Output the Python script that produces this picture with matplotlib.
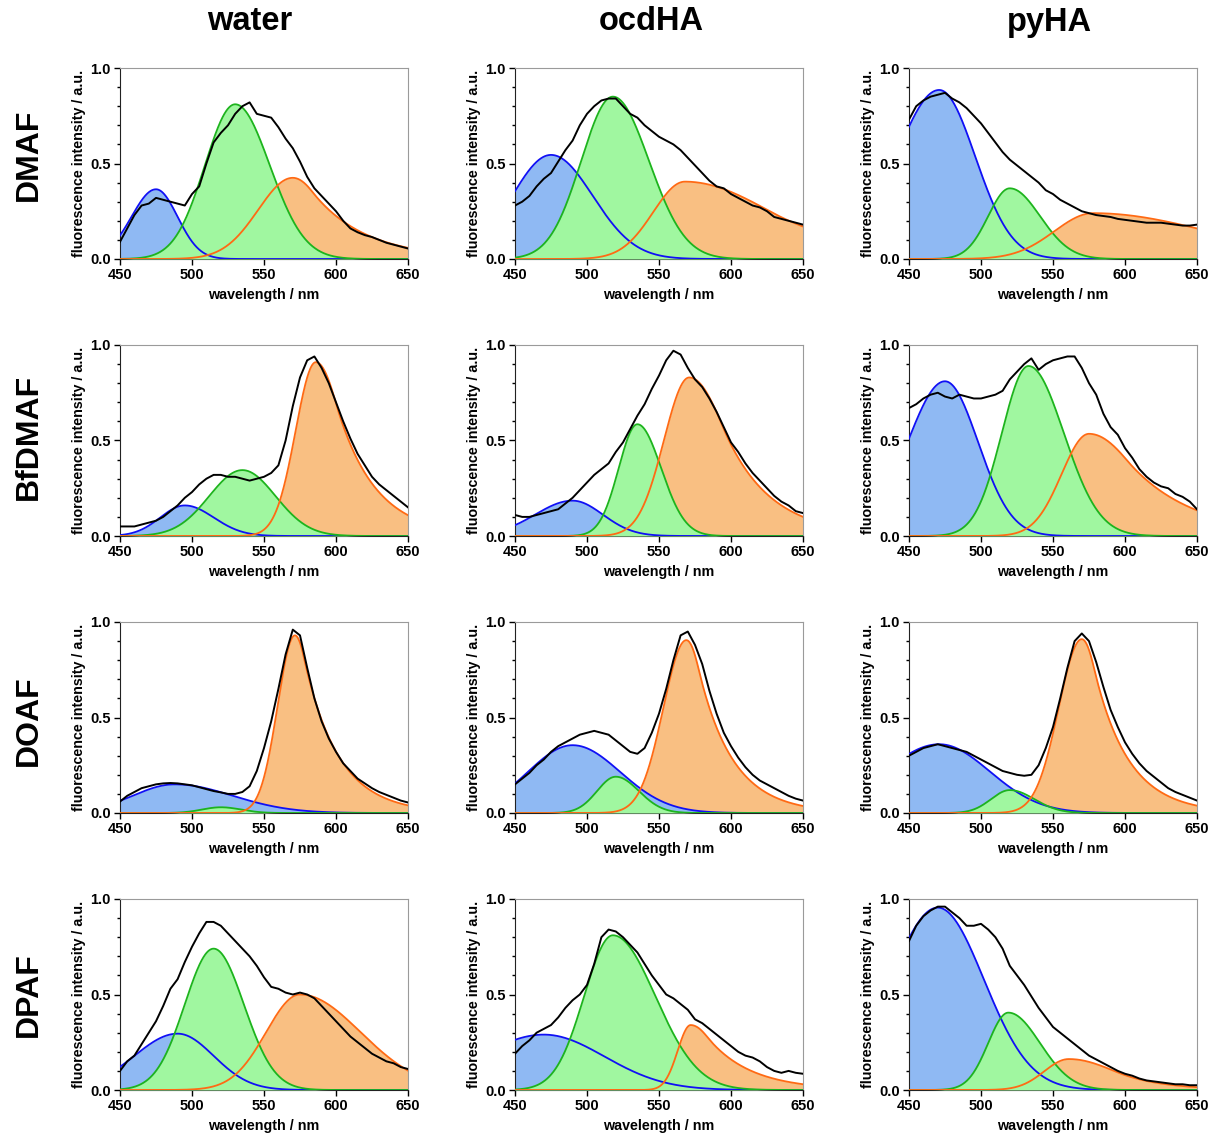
import numpy as np
import matplotlib
matplotlib.use('Agg')
import matplotlib.pyplot as plt
from matplotlib.ticker import MultipleLocator, FormatStrFormatter

plt.rcParams['font.family'] = ['Liberation Sans', 'DejaVu Sans']
plt.rcParams['font.weight'] = 'bold'

dyes = ['DMAF', 'BfDMAF', 'DOAF', 'DPAF']
media = ['water', 'ocdHA', 'pyHA']

# measured spectra, read every 5 nm from 450 to 650 nm
wavelength = np.arange(450, 651, 5)

spec_DMAF_water = [0.09, 0.16, 0.23, 0.28, 0.29, 0.32, 0.31, 0.30, 0.29, 0.28, 0.34, 0.38, 0.50, 0.61,
                   0.66, 0.70, 0.76, 0.80, 0.82, 0.76, 0.75, 0.74, 0.69, 0.63, 0.58, 0.51, 0.43, 0.37,
                   0.33, 0.29, 0.25, 0.20, 0.16, 0.14, 0.125, 0.115, 0.10, 0.085, 0.075, 0.065, 0.055]
spec_DMAF_ocdHA = [0.28, 0.30, 0.33, 0.38, 0.42, 0.45, 0.51, 0.57, 0.62, 0.70, 0.76, 0.80, 0.83, 0.84,
                   0.84, 0.80, 0.76, 0.74, 0.70, 0.67, 0.64, 0.62, 0.60, 0.57, 0.53, 0.49, 0.45, 0.41,
                   0.38, 0.37, 0.34, 0.32, 0.30, 0.28, 0.27, 0.25, 0.22, 0.21, 0.20, 0.19, 0.18]
spec_DMAF_pyHA = [0.73, 0.80, 0.83, 0.85, 0.86, 0.87, 0.84, 0.82, 0.79, 0.75, 0.71, 0.66, 0.61, 0.56,
                  0.52, 0.49, 0.46, 0.43, 0.40, 0.36, 0.34, 0.31, 0.29, 0.27, 0.25, 0.24, 0.23, 0.225,
                  0.22, 0.21, 0.205, 0.20, 0.195, 0.19, 0.19, 0.19, 0.185, 0.18, 0.175, 0.175, 0.18]
spec_BfDMAF_water = [0.05, 0.05, 0.05, 0.06, 0.07, 0.08, 0.10, 0.13, 0.16, 0.20, 0.23, 0.27, 0.30, 0.32,
                     0.32, 0.31, 0.31, 0.30, 0.29, 0.30, 0.31, 0.33, 0.37, 0.50, 0.68, 0.83, 0.92, 0.94,
                     0.88, 0.80, 0.70, 0.60, 0.51, 0.43, 0.37, 0.31, 0.27, 0.24, 0.21, 0.18, 0.15]
spec_BfDMAF_ocdHA = [0.11, 0.10, 0.10, 0.11, 0.12, 0.13, 0.14, 0.17, 0.20, 0.24, 0.28, 0.32, 0.35, 0.38,
                     0.44, 0.49, 0.56, 0.63, 0.69, 0.77, 0.84, 0.92, 0.97, 0.95, 0.88, 0.82, 0.78, 0.72,
                     0.65, 0.57, 0.49, 0.44, 0.38, 0.33, 0.29, 0.25, 0.21, 0.18, 0.16, 0.13, 0.12]
spec_BfDMAF_pyHA = [0.67, 0.69, 0.72, 0.74, 0.75, 0.73, 0.72, 0.74, 0.73, 0.72, 0.72, 0.73, 0.74, 0.76,
                    0.82, 0.86, 0.90, 0.93, 0.87, 0.90, 0.92, 0.93, 0.94, 0.94, 0.88, 0.80, 0.74, 0.64,
                    0.57, 0.53, 0.46, 0.41, 0.35, 0.31, 0.28, 0.26, 0.25, 0.22, 0.205, 0.18, 0.14]
spec_DOAF_water = [0.06, 0.09, 0.11, 0.13, 0.14, 0.15, 0.155, 0.157, 0.155, 0.15, 0.145, 0.135, 0.125, 0.115,
                   0.108, 0.10, 0.10, 0.11, 0.14, 0.22, 0.34, 0.48, 0.65, 0.83, 0.96, 0.93, 0.76, 0.60,
                   0.48, 0.39, 0.32, 0.26, 0.22, 0.18, 0.155, 0.13, 0.11, 0.095, 0.08, 0.065, 0.055]
spec_DOAF_ocdHA = [0.15, 0.18, 0.21, 0.25, 0.28, 0.32, 0.35, 0.37, 0.39, 0.41, 0.42, 0.43, 0.42, 0.41,
                   0.38, 0.35, 0.32, 0.31, 0.34, 0.42, 0.52, 0.65, 0.80, 0.93, 0.95, 0.88, 0.78, 0.64,
                   0.52, 0.42, 0.35, 0.29, 0.24, 0.20, 0.17, 0.15, 0.13, 0.11, 0.09, 0.075, 0.065]
spec_DOAF_pyHA = [0.30, 0.32, 0.34, 0.35, 0.36, 0.35, 0.34, 0.33, 0.32, 0.30, 0.28, 0.26, 0.24, 0.22,
                  0.21, 0.20, 0.195, 0.20, 0.25, 0.34, 0.45, 0.60, 0.76, 0.90, 0.94, 0.90, 0.79, 0.66,
                  0.54, 0.45, 0.37, 0.31, 0.26, 0.22, 0.19, 0.16, 0.13, 0.11, 0.095, 0.08, 0.065]
spec_DPAF_water = [0.10, 0.15, 0.18, 0.24, 0.30, 0.36, 0.44, 0.53, 0.58, 0.67, 0.75, 0.82, 0.88, 0.88,
                   0.86, 0.82, 0.78, 0.74, 0.70, 0.65, 0.59, 0.54, 0.53, 0.51, 0.50, 0.51, 0.50, 0.48,
                   0.44, 0.40, 0.36, 0.32, 0.28, 0.25, 0.22, 0.19, 0.17, 0.15, 0.14, 0.12, 0.11]
spec_DPAF_ocdHA = [0.19, 0.23, 0.26, 0.30, 0.32, 0.34, 0.38, 0.43, 0.47, 0.50, 0.55, 0.66, 0.80, 0.84,
                   0.83, 0.80, 0.76, 0.72, 0.66, 0.60, 0.55, 0.50, 0.48, 0.45, 0.42, 0.37, 0.35, 0.32,
                   0.29, 0.26, 0.23, 0.20, 0.18, 0.17, 0.15, 0.12, 0.10, 0.09, 0.10, 0.09, 0.085]
spec_DPAF_pyHA = [0.78, 0.86, 0.91, 0.94, 0.96, 0.96, 0.93, 0.90, 0.86, 0.86, 0.87, 0.84, 0.80, 0.74,
                  0.65, 0.60, 0.55, 0.49, 0.43, 0.38, 0.33, 0.30, 0.27, 0.24, 0.21, 0.18, 0.16, 0.14,
                  0.12, 0.10, 0.085, 0.075, 0.06, 0.05, 0.045, 0.04, 0.035, 0.03, 0.03, 0.025, 0.025]

# fitted bands (blue, green, orange):
# (peak / nm, height, left sigma, right sigma, red exponential tail length; 0 = none)
bands_DMAF_water = [(475, 0.365, 17, 15, 0), (530, 0.81, 21, 24, 0), (570, 0.425, 24, 22, 37)]
bands_DMAF_ocdHA = [(475, 0.545, 27, 29, 0), (518, 0.85, 22, 25, 0), (568, 0.405, 22, 60, 60)]
bands_DMAF_pyHA = [(471, 0.885, 30, 25, 0), (520, 0.37, 15, 21, 0), (578, 0.24, 27, 80, 0)]
bands_BfDMAF_water = [(495, 0.16, 17, 20, 0), (535, 0.345, 23, 23, 0), (586, 0.91, 14, 19, 27)]
bands_BfDMAF_ocdHA = [(490, 0.185, 26, 21, 0), (535, 0.585, 13, 16.5, 0), (571, 0.83, 17.5, 27, 32)]
bands_BfDMAF_pyHA = [(475, 0.81, 26, 23, 0), (533, 0.89, 18.5, 24.5, 0), (575, 0.535, 19, 34, 45)]
bands_DOAF_water = [(488, 0.15, 29, 40, 0), (520, 0.03, 13, 14, 0), (571.5, 0.93, 12, 12, 24)]
bands_DOAF_ocdHA = [(490, 0.355, 31, 33, 0), (520, 0.19, 13, 16, 0), (569, 0.905, 16, 14, 24)]
bands_DOAF_pyHA = [(471, 0.36, 38, 35, 0), (520, 0.12, 13, 17, 0), (570, 0.91, 16, 14, 24)]
bands_DPAF_water = [(490, 0.295, 30, 25, 0), (515, 0.74, 20, 21, 0), (575, 0.50, 23.5, 42, 0)]
bands_DPAF_ocdHA = [(470, 0.29, 45, 42, 0), (518, 0.81, 20, 29.5, 0), (572, 0.34, 9, 18, 30)]
bands_DPAF_pyHA = [(470, 0.955, 33, 32, 0), (519, 0.405, 14, 22, 0), (561, 0.162, 17, 32, 30)]

spectra = [[spec_DMAF_water, spec_DMAF_ocdHA, spec_DMAF_pyHA],
           [spec_BfDMAF_water, spec_BfDMAF_ocdHA, spec_BfDMAF_pyHA],
           [spec_DOAF_water, spec_DOAF_ocdHA, spec_DOAF_pyHA],
           [spec_DPAF_water, spec_DPAF_ocdHA, spec_DPAF_pyHA]]
bands = [[bands_DMAF_water, bands_DMAF_ocdHA, bands_DMAF_pyHA],
         [bands_BfDMAF_water, bands_BfDMAF_ocdHA, bands_BfDMAF_pyHA],
         [bands_DOAF_water, bands_DOAF_ocdHA, bands_DOAF_pyHA],
         [bands_DPAF_water, bands_DPAF_ocdHA, bands_DPAF_pyHA]]

line_colors = ['#1010f5', '#1db41d', '#ff6a14']
fill_colors = ['#8fb9f3', '#a0f7a0', '#f9bf82']
fill_order = [2, 0, 1]   # orange at the back, green in front


def band(x, peak, height, sig_l, sig_r, tail):
    # split gaussian, optionally with an exponential tail on the red side
    d = x - peak
    y = np.where(d < 0, np.exp(-d**2 / (2 * sig_l**2)), np.exp(-d**2 / (2 * sig_r**2)))
    if tail > 0:
        k = sig_r / tail
        y = np.where(d > k * sig_r, np.exp(k**2 / 2 - d / tail), y)
    return height * y


W, H = 1210, 1137
fig = plt.figure(figsize=(W / 100, H / 100), dpi=100)

lefts = [120, 515, 909]
tops = [68, 345, 622, 899]
aw, ah = 288, 191
xfine = np.linspace(450, 650, 801)

for r in range(4):
    for c in range(3):
        ax = fig.add_axes([lefts[c] / W, 1 - (tops[r] + ah) / H, aw / W, ah / H])
        comps = [band(xfine, *b) for b in bands[r][c]]
        for z, i in enumerate(fill_order):
            ax.fill_between(xfine, 0, comps[i], color=fill_colors[i], lw=0, zorder=1 + z)
        for i, y in enumerate(comps):
            ax.plot(xfine, y, color=line_colors[i], lw=1.3, zorder=5)
        ax.plot(wavelength, spectra[r][c], color='black', lw=1.4, zorder=6)

        ax.set_xlim(450, 650)
        ax.set_ylim(0, 1)
        ax.xaxis.set_major_locator(MultipleLocator(50))
        ax.yaxis.set_major_locator(MultipleLocator(0.5))
        ax.yaxis.set_minor_locator(MultipleLocator(0.1))
        ax.yaxis.set_major_formatter(FormatStrFormatter('%.1f'))
        ax.tick_params(which='both', direction='out', labelsize=10.5, width=1, pad=2.5)
        ax.tick_params(which='major', length=4)
        ax.tick_params(which='minor', length=2.5)
        for s in ['top', 'right']:
            ax.spines[s].set_color('#9a9a9a')
        for s in ['left', 'bottom']:
            ax.spines[s].set_color('#222222')
        ax.set_xlabel('wavelength / nm', fontsize=10.3, fontweight='bold', labelpad=4)
        ax.set_ylabel('fluorescence intensity / a.u.', fontsize=10.3, fontweight='bold', labelpad=3)

title_x = [250, 651, 1049]
for c in range(3):
    fig.text(title_x[c] / W, 1 - 22 / H, media[c], fontsize=23.5, fontweight='bold',
             ha='center', va='center')
row_y = [155, 437, 721, 995]
for r in range(4):
    fig.text(29 / W, 1 - row_y[r] / H, dyes[r], fontsize=23, fontweight='bold',
             rotation=90, ha='center', va='center')

fig.savefig('out.png', dpi=100)
